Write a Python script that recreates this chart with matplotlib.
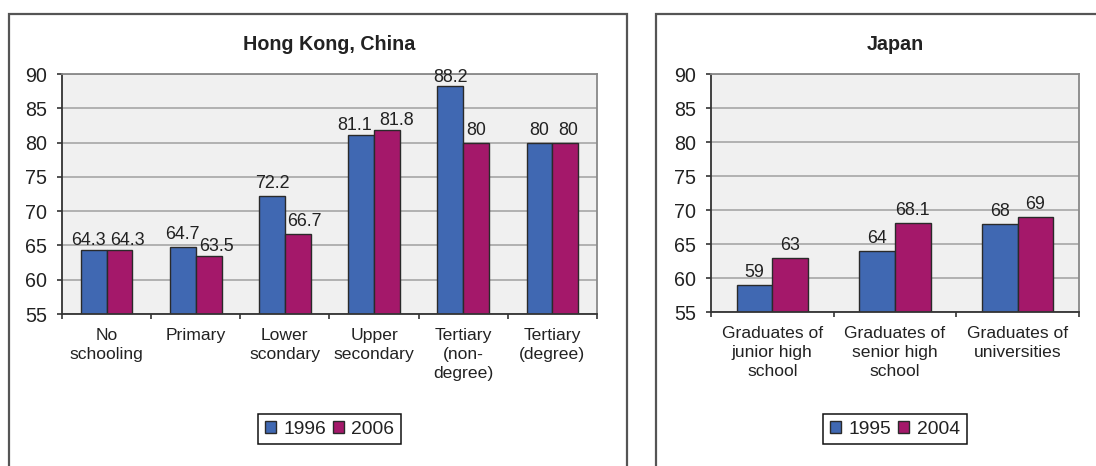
import matplotlib.pyplot as plt
from matplotlib.patches import Rectangle
from matplotlib.ticker import FixedLocator, NullFormatter
import numpy as np

plt.rcParams["font.family"] = ["Liberation Sans", "DejaVu Sans"]

# Hong Kong, China
hk_categories = ["No\nschooling", "Primary", "Lower\nscondary", "Upper\nsecondary",
                 "Tertiary\n(non-\ndegree)", "Tertiary\n(degree)"]
hk_years = ["1996", "2006"]
hk_1996 = [64.3, 64.7, 72.2, 81.1, 88.2, 80]
hk_2006 = [64.3, 63.5, 66.7, 81.8, 80, 80]

# Japan
jp_categories = ["Graduates of\njunior high\nschool", "Graduates of\nsenior high\nschool",
                 "Graduates of\nuniversities"]
jp_years = ["1995", "2004"]
jp_1995 = [59, 64, 68]
jp_2004 = [63, 68.1, 69]

yticks = [55, 60, 65, 70, 75, 80, 85, 90]

BLUE = "#4068B2"
MAGENTA = "#A4186A"
TXT = "#222222"
W, H = 1096, 466

fig = plt.figure(figsize=(W / 100, H / 100), dpi=100)
fig.patch.set_facecolor("white")

# panel frames (bottom edges run off the page)
for x0, x1 in [(9, 627), (656, 1200)]:
    fig.patches.append(Rectangle((x0 / W, -0.1), (x1 - x0) / W, (H - 14) / H + 0.1,
                                 transform=fig.transFigure, fill=False,
                                 edgecolor="#555555", linewidth=1.6))


def px(v):
    return v * 0.72


def panel(rect, title, cats, years, s1, s2, nudge):
    l, t, r, b = rect
    ax = fig.add_axes([l / W, (H - b) / H, (r - l) / W, (b - t) / H])
    n = len(cats)
    x = np.arange(n)
    w = 0.29
    ax.set_facecolor("#F0F0F0")
    ax.set_xlim(-0.5, n - 0.5)
    ax.set_ylim(55, 90)
    ax.set_yticks(yticks)
    ax.yaxis.grid(True, color="#A0A0A0", linewidth=1.1)
    ax.set_axisbelow(True)

    b1 = ax.bar(x - w / 2, s1, w, color=BLUE, edgecolor="#2a2a2a", linewidth=1, label=years[0])
    b2 = ax.bar(x + w / 2, s2, w, color=MAGENTA, edgecolor="#2a2a2a", linewidth=1, label=years[1])

    for si, (bars, vals) in enumerate([(b1, s1), (b2, s2)]):
        for ci, (bar, v) in enumerate(zip(bars, vals)):
            dx, dy = nudge.get((si, ci), (0, 0))
            ax.annotate(f"{v:g}", (bar.get_x() + bar.get_width() / 2, v),
                        xytext=(px(dx), px(8 + dy)), textcoords="offset points",
                        ha="center", va="baseline", fontsize=12.9, color=TXT,
                        annotation_clip=False)

    ax.set_xticks(x)
    ax.set_xticklabels(cats, fontsize=12.6, color=TXT, linespacing=1.35)
    ax.xaxis.set_minor_locator(FixedLocator(np.arange(n + 1) - 0.5))
    ax.xaxis.set_minor_formatter(NullFormatter())
    ax.tick_params(axis="x", which="major", length=0, pad=10)
    ax.tick_params(axis="x", which="minor", length=5 * 0.72, width=1.2, color="#333333")
    ax.tick_params(axis="y", length=5 * 0.72, width=1.2, color="#333333",
                   labelsize=14.2, labelcolor=TXT, pad=7.2)

    for s in ["left", "bottom"]:
        ax.spines[s].set_color("#333333")
        ax.spines[s].set_linewidth(1.3)
    for s in ["top", "right"]:
        ax.spines[s].set_color("#888888")
        ax.spines[s].set_linewidth(1.3)

    cx = (l + r) / 2
    fig.text(cx / W, 1 - 44 / H, title, ha="center", va="center",
             fontsize=14.2, fontweight="bold", color=TXT)

    leg = ax.legend(loc="center", bbox_to_anchor=(cx / W, 1 - 429 / H),
                    bbox_transform=fig.transFigure, ncol=2, fontsize=13.9,
                    frameon=True, fancybox=False, framealpha=1, edgecolor="#111111",
                    handlelength=0.56, handleheight=0.56, handletextpad=0.4,
                    columnspacing=0.35, borderpad=0.35)
    leg.get_frame().set_linewidth(1.1)
    for txt in leg.get_texts():
        txt.set_color(TXT)
    return ax


hk_nudge = {(0, 0): (-5, -3), (1, 0): (8, -3), (1, 1): (8, -3), (1, 2): (7, 0),
            (0, 3): (-7, -3), (1, 3): (10, -3), (0, 4): (0, -4), (1, 5): (3, 0)}

panel((62, 74, 597, 314), "Hong Kong, China", hk_categories, hk_years, hk_1996, hk_2006, hk_nudge)
panel((711, 74, 1079, 312), "Japan", jp_categories, jp_years, jp_1995, jp_2004, {})

fig.savefig("out.png", dpi=100)
